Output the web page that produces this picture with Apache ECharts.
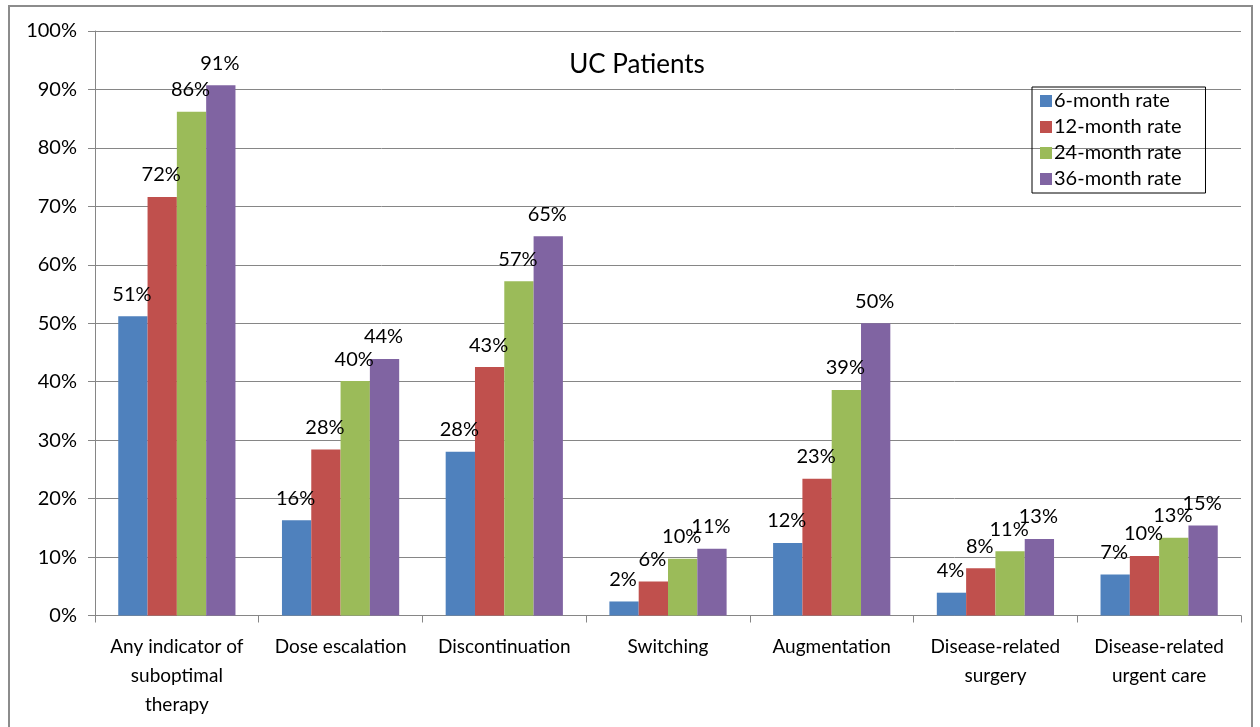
<!DOCTYPE html>
<html><head><meta charset="utf-8">
<script src="https://cdn.jsdelivr.net/npm/echarts@6/dist/echarts.min.js"></script>
<style>html,body{margin:0;padding:0;background:#fff}#c{width:1260px;height:727px}</style>
</head><body><div id="c"></div>
<script>
const categories = ["Any indicator of\nsuboptimal\ntherapy", "Dose escalation", "Discontinuation", "Switching", "Augmentation", "Disease-related\nsurgery", "Disease-related\nurgent care"];
const seriesNames = ["6-month rate", "12-month rate", "24-month rate", "36-month rate"];
const rate6 = [51.2, 16.3, 28.0, 2.4, 12.4, 3.9, 7.0];
const rate12 = [71.6, 28.4, 42.5, 5.8, 23.4, 8.1, 10.2];
const rate24 = [86.2, 40.1, 57.2, 9.7, 38.6, 11.0, 13.3];
const rate36 = [90.7, 43.9, 64.9, 11.4, 50.0, 13.1, 15.4];
const yTicks = [0, 10, 20, 30, 40, 50, 60, 70, 80, 90, 100];
const colors = ["#4F81BD", "#C0504D", "#9BBB59", "#8064A2"];
const FONT = "Lato";
const allData = [rate6, rate12, rate24, rate36];
const chart = echarts.init(document.getElementById('c'), null, {renderer: 'canvas'});
chart.setOption({
  animation: false,
  backgroundColor: '#fff',
  color: colors,
  title: {text: 'UC Patients', left: 632, top: 47, textAlign: 'center',
    textStyle: {fontFamily: FONT, fontSize: 26, fontWeight: 'normal', color: '#000'}},
  graphic: [{type: 'rect', shape: {x: 9, y: 6, width: 1243, height: 730}, style: {fill: 'none', stroke: '#8c8c8c', lineWidth: 2}, silent: true}],
  legend: {
    orient: 'vertical', left: 1032, top: 87, width: 176,
    data: seriesNames, itemWidth: 12, itemHeight: 12, itemGap: 6,
    icon: 'rect', borderColor: '#000', borderWidth: 1, padding: [4, 24, 4, 8],
    textStyle: {fontFamily: FONT, fontSize: 20, color: '#000', padding: [0, 0, 0, -3]}
  },
  grid: {left: 95, right: 19, top: 31, bottom: 111.5, containLabel: false},
  xAxis: {
    type: 'category', data: categories,
    axisLine: {lineStyle: {color: '#868686', width: 1}},
    axisTick: {show: true, length: 7, lineStyle: {color: '#868686'}},
    axisLabel: {fontFamily: FONT, fontSize: 19, color: '#000', margin: 17, lineHeight: 29, interval: 0}
  },
  yAxis: {
    type: 'value', min: 0, max: 100, interval: 10,
    axisLine: {show: true, lineStyle: {color: '#868686'}},
    axisTick: {show: true, length: 7, lineStyle: {color: '#868686'}},
    splitLine: {lineStyle: {color: '#868686', width: 1}},
    axisLabel: {fontFamily: FONT, fontSize: 20, color: '#000', margin: 18,
      formatter: v => yTicks.includes(v) ? v + '%' : ''}
  },
  series: seriesNames.map((n, i) => ({
    name: n, type: 'bar', data: allData[i],
    barGap: '0%', barCategoryGap: '28.4%',
    itemStyle: {color: colors[i]},
    label: {show: true, position: 'top', distance: 12, offset: [-1, 0],
      fontFamily: FONT, fontSize: 20, color: '#000',
      formatter: p => Math.round(p.value) + '%'}
  }))
});
</script></body></html>
